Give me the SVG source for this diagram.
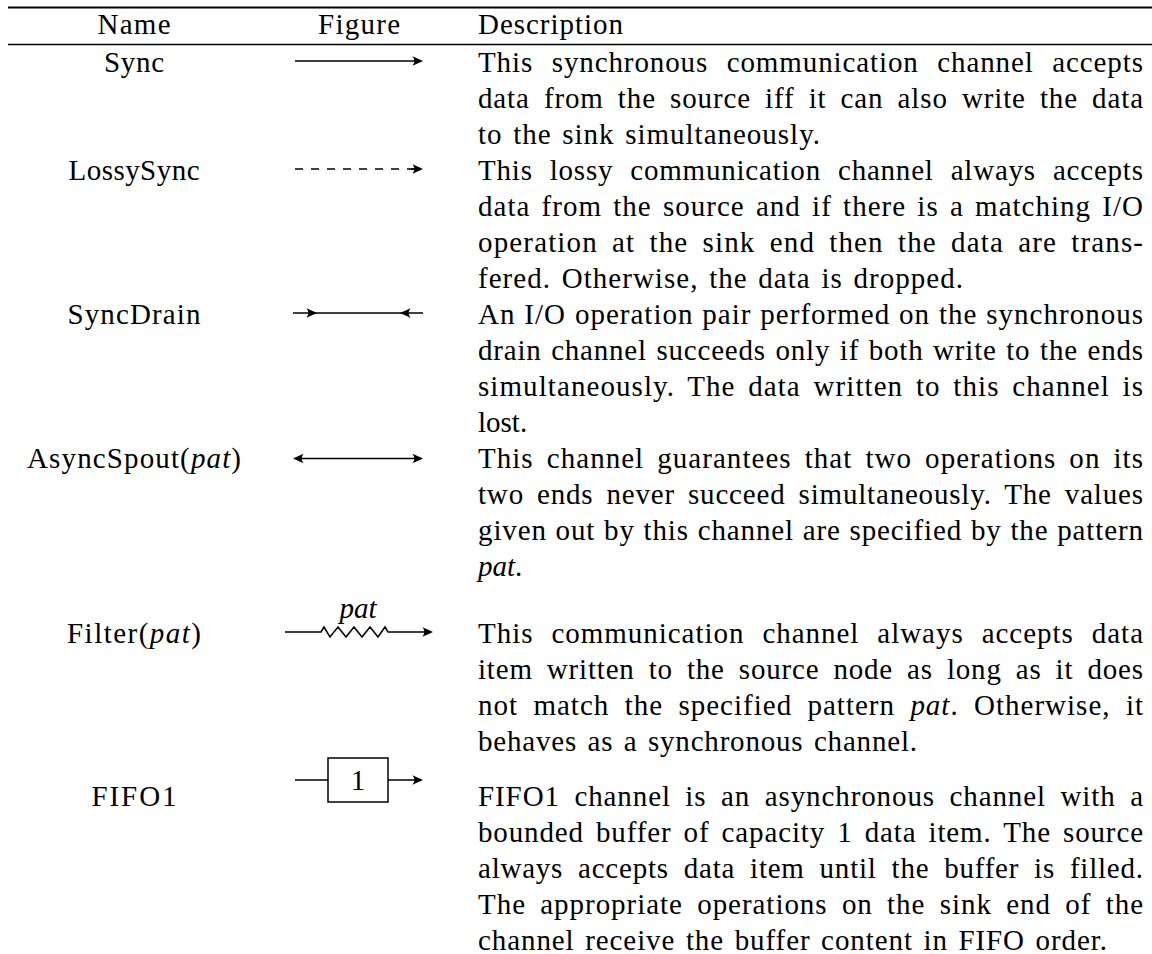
<svg xmlns="http://www.w3.org/2000/svg" width="1152" height="954" viewBox="0 0 1152 954">
<style>
.t{font-family:"Liberation Serif","Times New Roman",serif;font-size:29px;fill:#000}
.c{text-anchor:middle}
.it{font-style:italic}
.ln{stroke:#000;stroke-width:1.5;fill:none}
.rule{stroke:#000}
</style>
<defs>
<path id="ah" d="M0,0 L-10.5,-4.8 Q-6.8,0 -10.5,4.8 Z" fill="#000"/>
</defs>
<rect width="1152" height="954" fill="#fff"/>
<g id="rules">
<line class="rule" x1="8" y1="7.5" x2="1152" y2="7.5" stroke-width="2.2"/>
<line class="rule" x1="8" y1="44.5" x2="1152" y2="44.5" stroke-width="1.5"/>
</g>
<g id="header" class="t">
<text class="c" x="134" y="34" textLength="73" lengthAdjust="spacing">Name</text>
<text class="c" x="359" y="34" textLength="82" lengthAdjust="spacing">Figure</text>
<text x="478" y="34" textLength="145" lengthAdjust="spacing">Description</text>
</g>
<g id="connectors">
<line class="ln" x1="295" y1="61" x2="421" y2="61"/>
<use href="#ah" transform="translate(423,61)"/>
<line class="ln" x1="295" y1="169" x2="415" y2="169" stroke-dasharray="8 8"/>
<line class="ln" x1="411" y1="169" x2="421" y2="169"/>
<use href="#ah" transform="translate(423,169)"/>
<line class="ln" x1="293" y1="313" x2="423" y2="313"/>
<use href="#ah" transform="translate(317,313)"/>
<use href="#ah" transform="translate(400,313) rotate(180)"/>
<line class="ln" x1="295" y1="458.5" x2="421" y2="458.5"/>
<use href="#ah" transform="translate(293,458.5) rotate(180)"/>
<use href="#ah" transform="translate(423,458.5)"/>
<path class="ln" d="M285,632 H321 L324,627 L330,637 L338,627 L346,637 L354,627 L362,637 L370,627 L378,637 L385,627 L388,632 H431"/>
<use href="#ah" transform="translate(433,632)"/>
<line class="ln" x1="295" y1="780" x2="328" y2="780"/>
<rect class="ln" x="328" y="758" width="60" height="44"/>
<line class="ln" x1="388" y1="780" x2="421" y2="780"/>
<use href="#ah" transform="translate(423,780)"/>
</g>
<g id="row-sync" class="t">
<text class="c" x="134" y="71.7" textLength="60" lengthAdjust="spacing">Sync</text>
<text x="478" y="71.7" textLength="665" lengthAdjust="spacing" word-spacing="10.4">This synchronous communication channel accepts</text>
<text x="478" y="107.8" textLength="665" lengthAdjust="spacing" word-spacing="6">data from the source iff it can also write the data</text>
<text x="478" y="143.8" textLength="342" lengthAdjust="spacing" word-spacing="2.4">to the sink simultaneously.</text>
</g>
<g id="row-lossysync" class="t">
<text class="c" x="134" y="179.9" textLength="131" lengthAdjust="spacing">LossySync</text>
<text x="478" y="179.9" textLength="665" lengthAdjust="spacing" word-spacing="9">This lossy communication channel always accepts</text>
<text x="478" y="215.9" textLength="665" lengthAdjust="spacing" word-spacing="3">data from the source and if there is a matching I/O</text>
<text x="478" y="252" textLength="665" lengthAdjust="spacing" word-spacing="5.8">operation at the sink end then the data are trans-</text>
<text x="478" y="288" textLength="485" lengthAdjust="spacing" word-spacing="2.4">fered. Otherwise, the data is dropped.</text>
</g>
<g id="row-syncdrain" class="t">
<text class="c" x="134" y="324.1" textLength="133" lengthAdjust="spacing">SyncDrain</text>
<text x="478" y="324.1" textLength="665" lengthAdjust="spacing" word-spacing="0.6">An I/O operation pair performed on the synchronous</text>
<text x="478" y="360.1" textLength="665" lengthAdjust="spacing" word-spacing="1.6">drain channel succeeds only if both write to the ends</text>
<text x="478" y="396.2" textLength="665" lengthAdjust="spacing" word-spacing="4.4">simultaneously. The data written to this channel is</text>
<text x="478" y="432.2">lost.</text>
</g>
<g id="row-asyncspout" class="t">
<text class="c" x="134" y="468.3" textLength="214" lengthAdjust="spacing">AsyncSpout(<tspan class="it">pat</tspan>)</text>
<text x="478" y="468.3" textLength="665" lengthAdjust="spacing" word-spacing="4.8">This channel guarantees that two operations on its</text>
<text x="478" y="504.3" textLength="665" lengthAdjust="spacing" word-spacing="5">two ends never succeed simultaneously. The values</text>
<text x="478" y="540.4" textLength="665" lengthAdjust="spacing" word-spacing="0.6">given out by this channel are specified by the pattern</text>
<text x="478" y="576.4"><tspan class="it">pat</tspan>.</text>
</g>
<g id="row-filter" class="t">
<text class="c it" x="358" y="618">pat</text>
<text class="c" x="134" y="643" textLength="134" lengthAdjust="spacing">Filter(<tspan class="it">pat</tspan>)</text>
<text x="478" y="643" textLength="665" lengthAdjust="spacing" word-spacing="9.8">This communication channel always accepts data</text>
<text x="478" y="679" textLength="665" lengthAdjust="spacing" word-spacing="6">item written to the source node as long as it does</text>
<text x="478" y="715" textLength="665" lengthAdjust="spacing" word-spacing="7.1">not match the specified pattern <tspan class="it">pat</tspan>. Otherwise, it</text>
<text x="478" y="751" textLength="439" lengthAdjust="spacing" word-spacing="2.4">behaves as a synchronous channel.</text>
</g>
<g id="row-fifo1" class="t">
<text class="c" x="358" y="790">1</text>
<text class="c" x="134" y="806" textLength="85" lengthAdjust="spacing">FIFO1</text>
<text x="478" y="806" textLength="665" lengthAdjust="spacing" word-spacing="6.3">FIFO1 channel is an asynchronous channel with a</text>
<text x="478" y="842" textLength="665" lengthAdjust="spacing" word-spacing="4">bounded buffer of capacity 1 data item. The source</text>
<text x="478" y="878" textLength="665" lengthAdjust="spacing" word-spacing="6.9">always accepts data item until the buffer is filled.</text>
<text x="478" y="914" textLength="665" lengthAdjust="spacing" word-spacing="6.1">The appropriate operations on the sink end of the</text>
<text x="478" y="950" textLength="629" lengthAdjust="spacing" word-spacing="2.4">channel receive the buffer content in FIFO order.</text>
</g>
</svg>
